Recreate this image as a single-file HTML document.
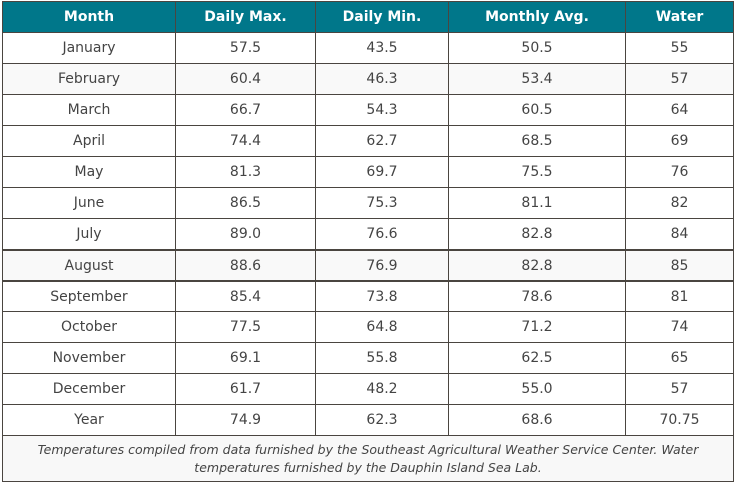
<!DOCTYPE html>
<html><head><meta charset="utf-8"><style>
body{margin:0;width:734px;height:484px;background:#fff;overflow:hidden}
table{position:absolute;left:2px;top:1px;width:731px;border-collapse:collapse;table-layout:fixed;font-family:"DejaVu Sans","Liberation Sans",sans-serif;font-size:14px;color:#444}
td,th{border:1px solid #4a4540;text-align:center;padding:0;height:30px}
th{background:#00778a;color:#fff;font-weight:bold;font-size:14px}
tr.alt td{background:#f9f9f9}
tr.thick td{border-top:2px solid #4a4540;height:29px}
td.foot{font-style:italic;font-size:12.5px;height:45px;background:#f8f8f8;line-height:18px;padding:0 6px}
</style></head><body>
<table>
<colgroup><col style="width:173px"><col style="width:140px"><col style="width:133px"><col style="width:177px"><col style="width:108px"></colgroup>
<tr><th>Month</th><th>Daily Max.</th><th>Daily Min.</th><th>Monthly Avg.</th><th>Water</th></tr>
<tr><td>January</td><td>57.5</td><td>43.5</td><td>50.5</td><td>55</td></tr>
<tr class="alt"><td>February</td><td>60.4</td><td>46.3</td><td>53.4</td><td>57</td></tr>
<tr><td>March</td><td>66.7</td><td>54.3</td><td>60.5</td><td>64</td></tr>
<tr><td>April</td><td>74.4</td><td>62.7</td><td>68.5</td><td>69</td></tr>
<tr><td>May</td><td>81.3</td><td>69.7</td><td>75.5</td><td>76</td></tr>
<tr><td>June</td><td>86.5</td><td>75.3</td><td>81.1</td><td>82</td></tr>
<tr><td>July</td><td>89.0</td><td>76.6</td><td>82.8</td><td>84</td></tr>
<tr class="alt thick"><td>August</td><td>88.6</td><td>76.9</td><td>82.8</td><td>85</td></tr>
<tr class="thick"><td>September</td><td>85.4</td><td>73.8</td><td>78.6</td><td>81</td></tr>
<tr><td>October</td><td>77.5</td><td>64.8</td><td>71.2</td><td>74</td></tr>
<tr><td>November</td><td>69.1</td><td>55.8</td><td>62.5</td><td>65</td></tr>
<tr><td>December</td><td>61.7</td><td>48.2</td><td>55.0</td><td>57</td></tr>
<tr><td>Year</td><td>74.9</td><td>62.3</td><td>68.6</td><td>70.75</td></tr>
<tr><td class="foot" colspan="5">Temperatures compiled from data furnished by the Southeast Agricultural Weather Service Center. Water temperatures furnished by the Dauphin Island Sea Lab.</td></tr>
</table>
</body></html>
